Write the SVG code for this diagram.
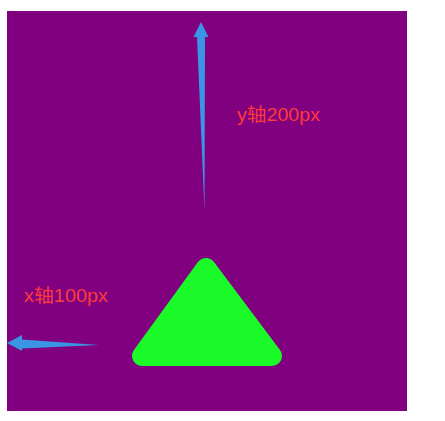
<svg xmlns="http://www.w3.org/2000/svg" width="445" height="421" viewBox="0 0 445 421">
<style>
.lbl{font-family:"Liberation Sans","Noto Sans CJK SC",sans-serif;font-size:18px;fill:#ff3a3a}
.arrow{fill:#3a95e4}
</style>
<rect x="7" y="11" width="400" height="400" fill="#800080"/>
<g id="triangle">
<polygon points="206,268 142,356 272,356" fill="#19fa28" stroke="#19fa28" stroke-width="20" stroke-linejoin="round"/>
</g>
<g id="connectors">
<polygon class="arrow" points="201,22 208.5,37 205,37 204.5,211 197,37 193.5,37"/>
<polygon class="arrow" points="7,343 22,335 22,339.5 99,345 22,348.5 22,351"/>
</g>
<g id="label-y"><text class="lbl" x="237" y="121" textLength="83" lengthAdjust="spacingAndGlyphs">y轴200px</text></g>
<g id="label-x"><text class="lbl" x="24" y="302" textLength="84" lengthAdjust="spacingAndGlyphs">x轴100px</text></g>
</svg>
